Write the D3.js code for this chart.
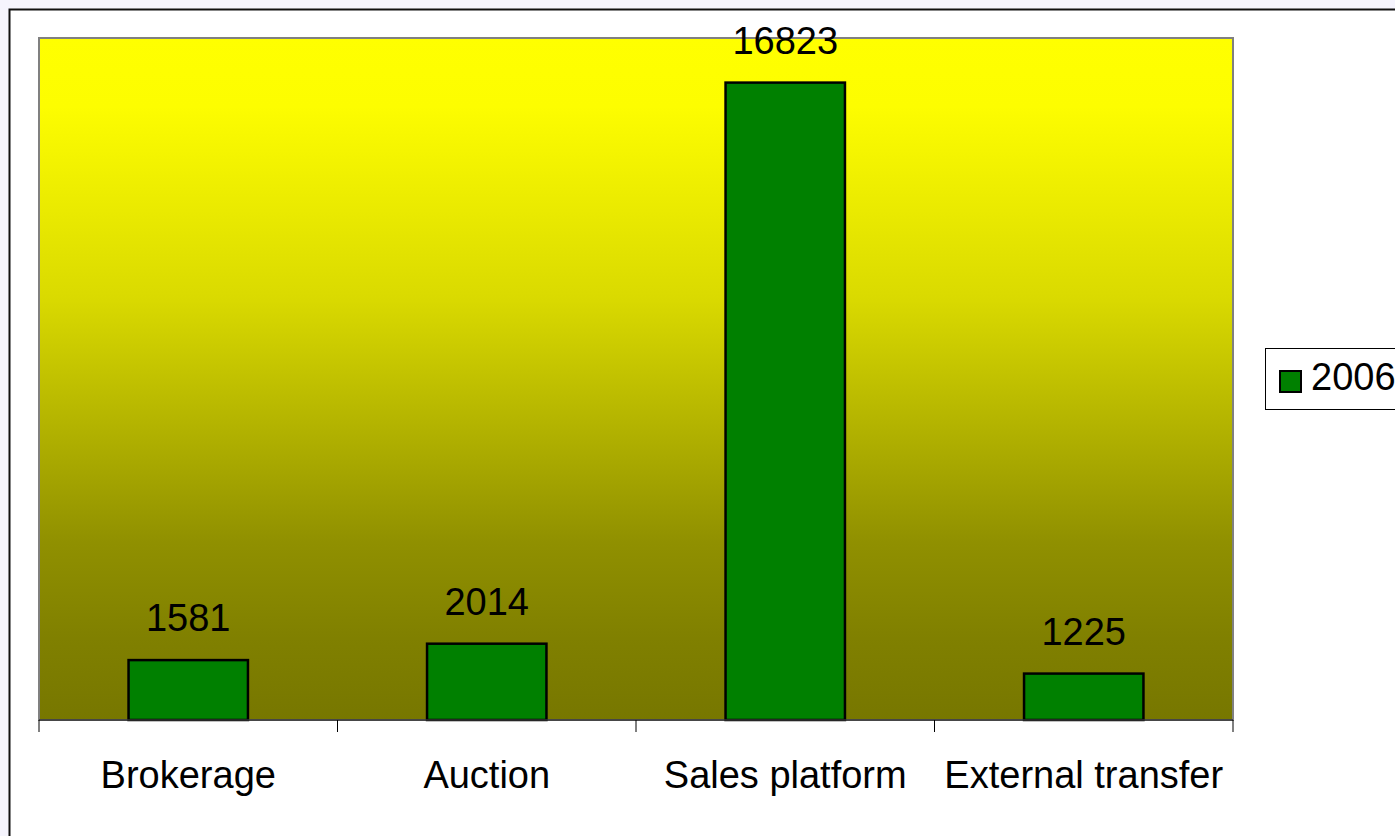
<!DOCTYPE html>
<html>
<head>
<meta charset="utf-8">
<script src="https://cdn.jsdelivr.net/npm/d3@7"></script>
<style>
  body { margin: 0; background: #f5f4fd; }
  svg { display: block; }
  text { font-family: "Liberation Sans", Arial, sans-serif; }
</style>
</head>
<body>
<div id="chart"></div>
<script>
// data
var categories = ["Brokerage", "Auction", "Sales platform", "External transfer"]
var values2006 = [1581, 2014, 16823, 1225]
var seriesName = "2006"
var yMax = 18000

var W = 1395, H = 836
var plot = { left: 39, top: 38, right: 1233, bottom: 720 }

var svg = d3.select("#chart")
  .append("svg")
  .attr("width", W)
  .attr("height", H)

// outer chart frame (runs off the right and bottom edges)
svg.append("rect")
  .attr("x", 9.5).attr("y", 9.5)
  .attr("width", W + 20).attr("height", H + 20)
  .style("fill", "#ffffff")
  .style("stroke", "#111")
  .style("stroke-width", 2)

// gradient for the plot area
var grad = svg.append("defs").append("linearGradient")
  .attr("id", "bg").attr("x1", 0).attr("y1", 0).attr("x2", 0).attr("y2", 1)
var stops = [[0, "#ffff00"], [0.1, "#fdfd00"], [0.38, "#dada00"], [0.53, "#bbbb00"],
  [0.74, "#909000"], [0.88, "#808000"], [1, "#777700"]]
stops.forEach(function (s) {
  grad.append("stop").attr("offset", s[0]).attr("stop-color", s[1])
})

var x = d3.scaleBand()
  .domain(categories)
  .range([plot.left, plot.right])
  .paddingInner(0.6)
  .paddingOuter(0.3)

var y = d3.scaleLinear()
  .domain([0, yMax])
  .range([plot.bottom, plot.top])

svg.append("rect")
  .attr("x", plot.left).attr("y", plot.top)
  .attr("width", plot.right - plot.left).attr("height", plot.bottom - plot.top)
  .style("fill", "url(#bg)")
  .style("stroke", "#808080")
  .style("stroke-width", 2)

// bars
var data = categories.map(function (c, i) { return { cat: c, v: values2006[i] } })

svg.selectAll("rect.bar")
  .data(data).enter()
  .append("rect")
  .attr("class", "bar")
  .attr("x", function (d) { return x(d.cat) })
  .attr("y", function (d) { return y(d.v) })
  .attr("width", x.bandwidth())
  .attr("height", function (d) { return y(0) - y(d.v) })
  .style("fill", "#008000")
  .style("stroke", "#000")
  .style("stroke-width", 2.5)

// value labels
svg.selectAll("text.val")
  .data(data).enter()
  .append("text")
  .attr("class", "val")
  .attr("x", function (d) { return x(d.cat) + x.bandwidth() / 2 })
  .attr("y", function (d) { return y(d.v) - 29 })
  .attr("text-anchor", "middle")
  .style("font-size", "38px")
  .text(function (d) { return d.v })

// x axis with ticks between categories
var tickPos = d3.range(categories.length + 1).map(function (i) {
  return plot.left + i * (plot.right - plot.left) / categories.length
})
var axis = svg.append("g")
axis.append("line")
  .attr("x1", plot.left).attr("x2", plot.right)
  .attr("y1", plot.bottom).attr("y2", plot.bottom)
  .style("stroke", "#333").style("stroke-width", 1.5)
axis.selectAll("line.tick")
  .data(tickPos).enter()
  .append("line")
  .attr("class", "tick")
  .attr("x1", function (d) { return d }).attr("x2", function (d) { return d })
  .attr("y1", plot.bottom).attr("y2", plot.bottom + 12)
  .style("stroke", "#000").style("stroke-width", 1)
axis.selectAll("text")
  .data(categories).enter()
  .append("text")
  .attr("x", function (d) { return x(d) + x.bandwidth() / 2 })
  .attr("y", 788)
  .attr("text-anchor", "middle")
  .style("font-size", "38px")
  .text(function (d) { return d })

// legend
var leg = svg.append("g")
leg.append("rect")
  .attr("x", 1265.5).attr("y", 348.5)
  .attr("width", 160).attr("height", 61)
  .style("fill", "#fff").style("stroke", "#000").style("stroke-width", 1)
leg.append("rect")
  .attr("x", 1280).attr("y", 371)
  .attr("width", 21).attr("height", 21)
  .style("fill", "#008000").style("stroke", "#000").style("stroke-width", 2)
leg.append("text")
  .attr("x", 1311).attr("y", 390)
  .style("font-size", "38px")
  .text(seriesName)
</script>
</body>
</html>
